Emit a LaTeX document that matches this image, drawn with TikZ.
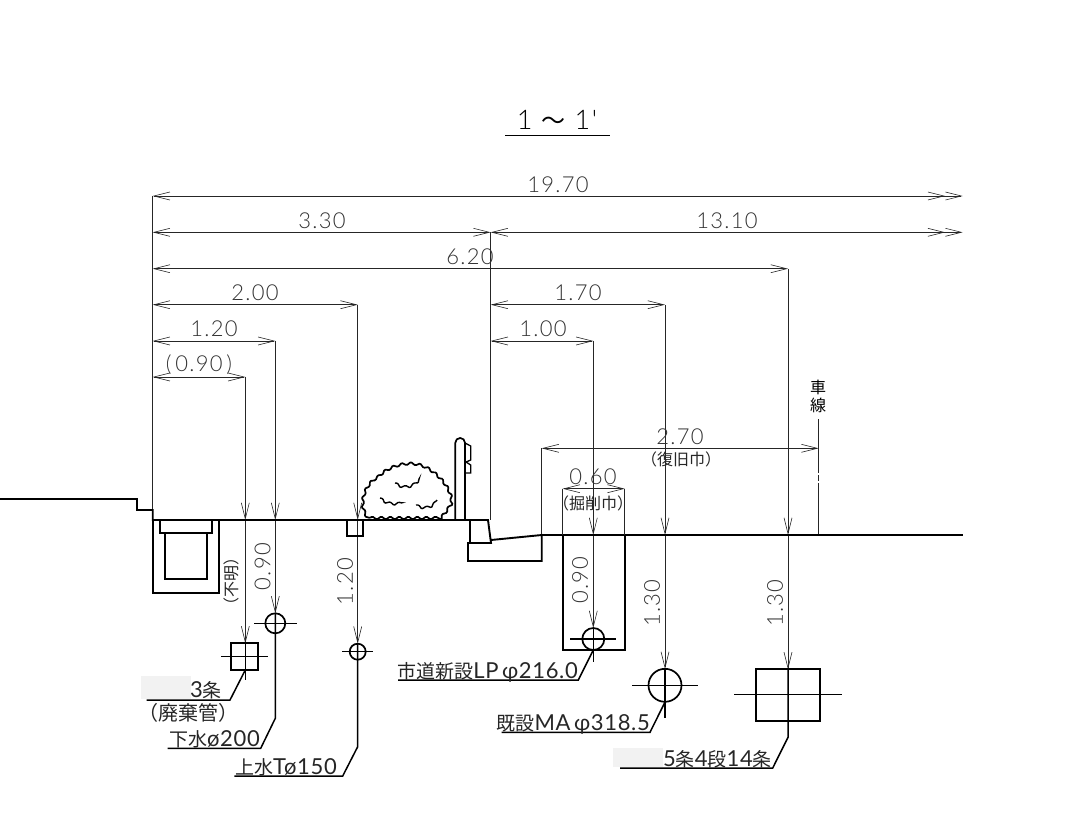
\documentclass[tikz,border=0pt]{standalone}
\usepackage{fontspec}
\setmainfont{Liberation Sans}
\newfontfamily\dimfont[LetterSpace=6]{Lato Light}
\newfontfamily\pipenum[LetterSpace=3]{Lato}
\newfontfamily\notefont{Noto Sans CJK JP}
\newcommand{\kj}[1]{{\notefont\fontsize{19}{19}\selectfont #1}}
\usetikzlibrary{arrows.meta,decorations.pathmorphing}
\tikzset{barb/.tip={Straight Barb[length=16pt,width=8pt,line width=0.6pt]},
    dimline/.style={draw=black!85, line width=0.9pt},
    dimboth/.style={dimline, {barb}-{barb}},
    dimright/.style={dimline, {barb}-{barb[]barb[]}},
    profile/.style={draw=black, line width=1.9pt},
    pipe/.style={draw=black, line width=1.7pt},
    cross/.style={draw=black, line width=1.4pt},
    leader/.style={draw=black, line width=1.5pt},
    dimtext/.style={font=\dimfont\fontsize{22}{22}\selectfont, text=black!80, inner sep=0pt},
    dimnote/.style={font=\notefont\fontsize{16}{16}\selectfont, text=black!85, inner sep=0pt},
    pipetext/.style={font=\pipenum\fontsize{22}{22}\selectfont, text=black!85, anchor=base east, inner sep=0pt},
    erased/.style={fill=black!5, draw=none}}

\begin{document}
\begin{tikzpicture}[x=1pt,y=-1pt]
    \useasboundingbox (0,0) rectangle (1078,812);
    % Title
    \node[dimtext, font=\dimfont\fontsize{27}{27}\selectfont, text=black] (title) at (557,120) {1 {\notefont\fontsize{24}{24}\selectfont ～} 1'};
    \draw[line width=1pt] (505,135) -- (610,135);
    % Dimension lines, top
    \draw[dimright] (152.7,196) -- (962.7,196);
    \draw[dimboth] (152.7,232.3) -- (490.7,232.3);
    \draw[dimright] (490.7,232.3) -- (962.7,232.3);
    \draw[dimboth] (152.7,268.7) -- (788,268.7);
    \draw[dimboth] (152.7,304.7) -- (357.7,304.7);
    \draw[dimboth] (490.7,304.7) -- (665,304.7);
    \draw[dimboth] (152.7,341) -- (275.3,341);
    \draw[dimboth] (490.7,341) -- (593.3,341);
    \draw[dimboth] (152.7,377) -- (245.3,377);
    \draw[dimboth] (541.7,448.3) -- (818.7,448.3);
    \draw[dimboth] (562.7,488.7) -- (624.7,488.7);
    % Extension lines
    \draw[dimline] (152.7,196) -- (152.7,520);
    \draw[dimline] (490.7,232.3) -- (490.7,520);
    \draw[dimline, line width=1.2pt] (541.7,448.3) -- (541.7,535);
    \draw[dimline, line width=1.2pt] (818.7,419.3) -- (818.7,535);
    \fill[white] (817,473) rectangle (820.5,475);
    \fill[white] (817,481) rectangle (820.5,483);
    % Depth lines
    \draw[dimline, {barb}-] (245.3,520) -- (245.3,377);
    \draw[dimline, -{barb}] (245.3,520) -- (245.3,643.3);
    \draw[dimline, {barb}-] (275.3,520) -- (275.3,341);
    \draw[dimline, -{barb}] (275.3,520) -- (275.3,613.3);
    \draw[dimline, {barb}-] (357.7,520) -- (357.7,304.7);
    \draw[dimline, -{barb}] (357.7,520) -- (357.7,643.7);
    \draw[dimline, {barb}-] (593.3,535) -- (593.3,341);
    \draw[dimline, -{barb}] (593.3,535) -- (593.3,628);
    \draw[dimline, {barb}-] (665,535) -- (665,304.7);
    \draw[dimline, -{barb}] (665,535) -- (665,669);
    \draw[dimline, {barb}-] (788,535) -- (788,268.7);
    \draw[dimline, -{barb}] (788,535) -- (788,669.3);
    % Ground profile
    \draw[profile] (0,499) -- (137,499) -- (137,510) -- (152.7,510) -- (152.7,520) -- (488,520) -- (491,543) -- (468,543) -- (468,561) -- (541.7,561) -- (541.7,535) -- (491,540);
    \draw[profile] (541.7,535) -- (962.7,535);
    \draw[pipe] (470,520) -- (470,543);
    % Structures below ground
    \draw[profile] (152.7,520) -- (152.7,592.7) -- (219.3,592.7) -- (219.3,520);
    \draw[pipe] (160,520) -- (160,532.7) -- (212,532.7) -- (212,520);
    \draw[pipe] (165,532.7) -- (165,579) -- (207.3,579) -- (207.3,532.7);
    \draw[pipe] (346.7,520) -- (346.7,535.7) -- (362.7,535.7) -- (362.7,520);
    \draw[pipe] (562.7,535) -- (562.7,650) -- (624.7,650) -- (624.7,535);
    \draw[dimline, line width=1.2pt] (562.7,488.7) -- (562.7,535) (624.7,488.7) -- (624.7,535);
    % Post and shrub
    \draw[pipe] (455.3,520) -- (455.3,442.8) arc (180:360:4.85) -- (465,520);
    \draw[pipe, line width=1.3pt] (465,443) -- (470.7,446) -- (470.7,460) -- (466,462) -- (470.7,465) -- (470.7,473) -- (465,473);
    \begin{scope}[decoration={zigzag, segment length=9pt, amplitude=1.6pt}, rounded corners=1pt]
      \draw[pipe, decorate] (368,518) .. controls (358,505) and (364,485) .. (378,477) .. controls (388,467) and (405,461) .. (420,465) .. controls (436,470) and (454,490) .. (451,505) -- (441,518) -- cycle;
      \draw[pipe, line width=1.4pt, decorate] (395,483) .. controls (402,489) and (414,488) .. (419,479);
      \draw[pipe, line width=1.4pt, decorate] (380,498) .. controls (385,503) and (393,505) .. (401,503);
      \draw[pipe, line width=1.4pt, decorate] (416,505) .. controls (422,509) and (432,509) .. (437,500);
    \end{scope}
    % Pipe, 3 lines
    \draw[pipe] (231,643.3) rectangle (257.7,670);
    \draw[cross] (221,656.3) -- (268.3,656.3) (245.3,643.3) -- (245.3,680);
    \fill[erased] (141,676) rectangle (191,699);
    \draw[leader] (245.3,670) -- (230,700) -- (146.7,700);
    \node[pipetext] (threelines) at (222,697) {3\kj{条}};
    \node[dimnote, font=\notefont\fontsize{20}{20}\selectfont] (disused) at (188,712.7) {（廃棄管）};
    % Sewer
    \draw[pipe] (275.3,623.3) circle (10);
    \draw[cross] (254.3,623.3) -- (296.7,623.3);
    \draw[leader] (275.3,613.3) -- (275.3,718.3) -- (260.7,748.3) -- (167.7,748.3);
    \node[pipetext] (sewer) at (260,746) {\kj{下水}ø200};
    % Water
    \draw[pipe] (357.7,651.7) circle (8);
    \draw[cross] (342,651.7) -- (373.3,651.7);
    \draw[leader] (357.7,643.7) -- (357.7,746.7) -- (342.7,776) -- (234.3,776);
    \node[pipetext] (water) at (337,774) {\kj{上水}Tø150};
    % New LP
    \draw[pipe] (593.3,639) circle (11);
    \draw[cross] (570,639) -- (616,639) (593.3,628) -- (593.3,661.7);
    \draw[leader] (593.3,650) -- (578.3,680) -- (398,680);
    \node[pipetext] (newlp) at (578,678) {\kj{市道新設}LP$\,$φ216.0};
    % Existing MA
    \draw[pipe] (665,685.3) circle (16.5);
    \draw[cross] (632.3,685.3) -- (698.3,685.3) (665,669) -- (665,717.7);
    \draw[leader] (665,702) -- (650,732.3) -- (501.7,732.3);
    \node[pipetext] (oldma) at (650,730) {\kj{既設}MA$\,$φ318.5};
    % Duct bank
    \draw[pipe] (755.7,669.3) rectangle (820,721);
    \draw[cross] (734.3,694.7) -- (841.7,694.7);
    \fill[erased] (613,748) rectangle (663,767);
    \draw[leader] (788,669.3) -- (788,737.3) -- (772.7,768) -- (620,768);
    \node[pipetext] (duct) at (772,766) {5\kj{条}4\kj{段}14\kj{条}};
    % Dimension values
    \node[dimtext] (d1970) at (558,185) {19.70};
    \node[dimtext] (d330) at (322,221) {3.30};
    \node[dimtext] (d1310) at (727,221) {13.10};
    \node[dimtext] (d620) at (470,257) {6.20};
    \node[dimtext] (d200) at (255,293) {2.00};
    \node[dimtext] (d170) at (578,293) {1.70};
    \node[dimtext] (d120) at (214,329) {1.20};
    \node[dimtext] (d100) at (543,329) {1.00};
    \node[dimtext] (d090) at (199,365) {(\,0.90\,)};
    \node[dimtext] (d270) at (680,437) {2.70};
    \node[dimtext] (d060) at (593,477) {0.60};
    \node[dimnote] (restore) at (681,459) {（復旧巾）};
    \node[dimnote] (excav) at (593,503) {（掘削巾）};
    \node[dimtext, rotate=90] (v090a) at (262.7,566.7) {0.90};
    \node[dimtext, rotate=90] (v120) at (345,581.7) {1.20};
    \node[dimtext, rotate=90] (v090b) at (580,580) {0.90};
    \node[dimtext, rotate=90] (v130a) at (652,603) {1.30};
    \node[dimtext, rotate=90] (v130b) at (775,603) {1.30};
    \node[dimnote, rotate=90] (unknown) at (231.7,581.7) {（不明）};
    \node[dimnote, text=black] (car) at (818,387) {車};
    \node[dimnote, text=black] (lane) at (818,405) {線};
\end{tikzpicture}
\end{document}
